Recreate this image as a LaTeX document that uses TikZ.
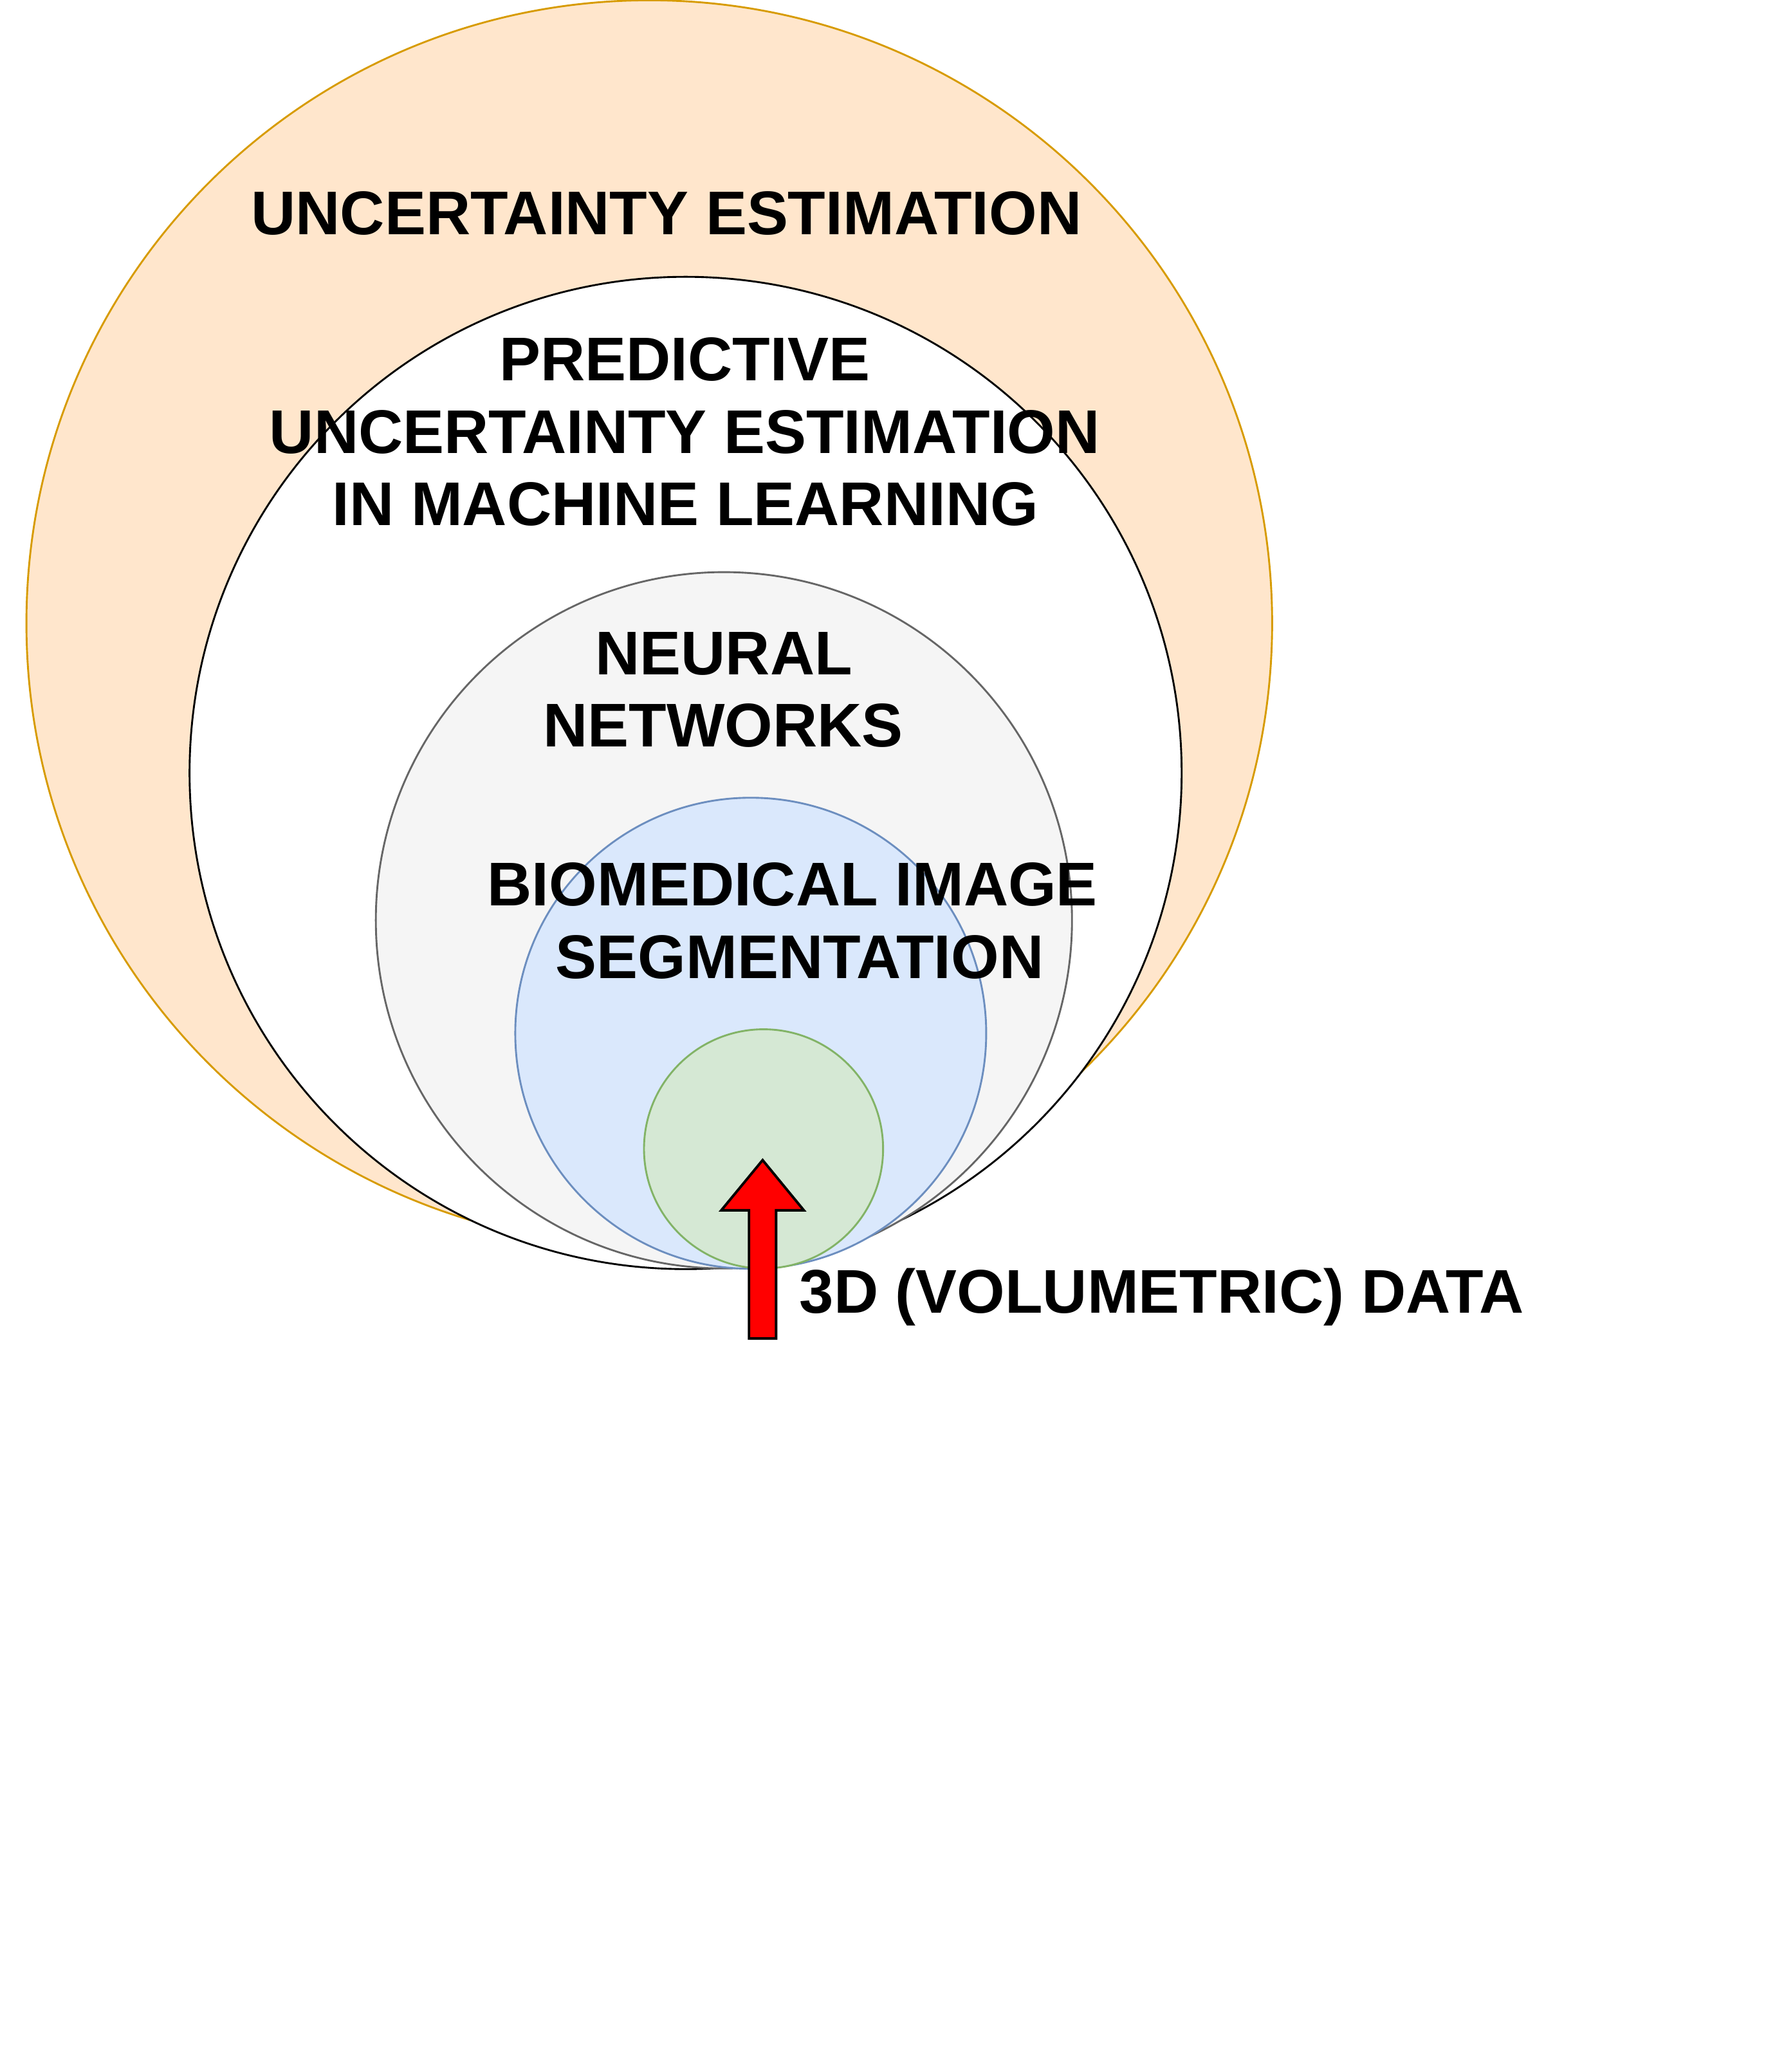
\documentclass[tikz,border=0pt]{standalone}
\usepackage{fontspec}
\setmainfont{Liberation Sans}
\begin{document}
\begin{tikzpicture}[x=1pt,y=-1pt,
  ring/.style={circle,inner sep=0pt,line width=1.4pt},
  lbl/.style={inner sep=0pt,anchor=base,font=\fontsize{46.7}{55}\selectfont\bfseries,text=black},
  blockarrow/.style={draw=black,fill=red,line width=1.9pt,line join=miter}
]
\definecolor{orangefill}{HTML}{FFE6CC}
\definecolor{orangeline}{HTML}{D79B00}
\definecolor{grayfill}{HTML}{F5F5F5}
\definecolor{grayline}{HTML}{666666}
\definecolor{bluefill}{HTML}{DAE8FC}
\definecolor{blueline}{HTML}{6C8EBF}
\definecolor{greenfill}{HTML}{D5E8D4}
\definecolor{greenline}{HTML}{82B366}
\useasboundingbox (0,0) rectangle (1350,1568.18);

% nested circles
\node[ring,draw=orangeline,fill=orangefill,minimum size=943pt] (unc) at (491.5,471.7) {};
\node[ring,draw=black,fill=white,minimum size=751pt] (pred) at (519,585) {};
\node[ring,draw=grayline,fill=grayfill,minimum size=527pt] (nn) at (548,696.5) {};
\node[ring,draw=blueline,fill=bluefill,minimum size=356.5pt] (bio) at (568.3,782) {};
\node[ring,draw=greenline,fill=greenfill,minimum size=181pt] (vol) at (578,869.5) {};

% red block arrow
\coordinate (tip) at (577.3,878);
\draw[blockarrow] (tip) -- (608.5,916) -- (587.5,916) -- (587.5,1013)
  -- (567,1013) -- (567,916) -- (546,916) -- cycle;

% labels
\node[lbl] (t1) at (504.5,177.3) {UNCERTAINTY ESTIMATION};
\node[lbl] (t2a) at (518.3,288.2) {PREDICTIVE};
\node[lbl] (t2b) at (518.3,343) {UNCERTAINTY ESTIMATION};
\node[lbl] (t2c) at (518.8,397.5) {IN MACHINE LEARNING};
\node[lbl] (t3a) at (548,510.6) {NEURAL};
\node[lbl] (t3b) at (547.5,565) {NETWORKS};
\node[lbl] (t4a) at (599.9,685.6) {BIOMEDICAL IMAGE};
\node[lbl] (t4b) at (605.4,740.4) {SEGMENTATION};
\node[lbl,anchor=base west] (t5) at (605,993.5) {3D (VOLUMETRIC) DATA};
\end{tikzpicture}
\end{document}
